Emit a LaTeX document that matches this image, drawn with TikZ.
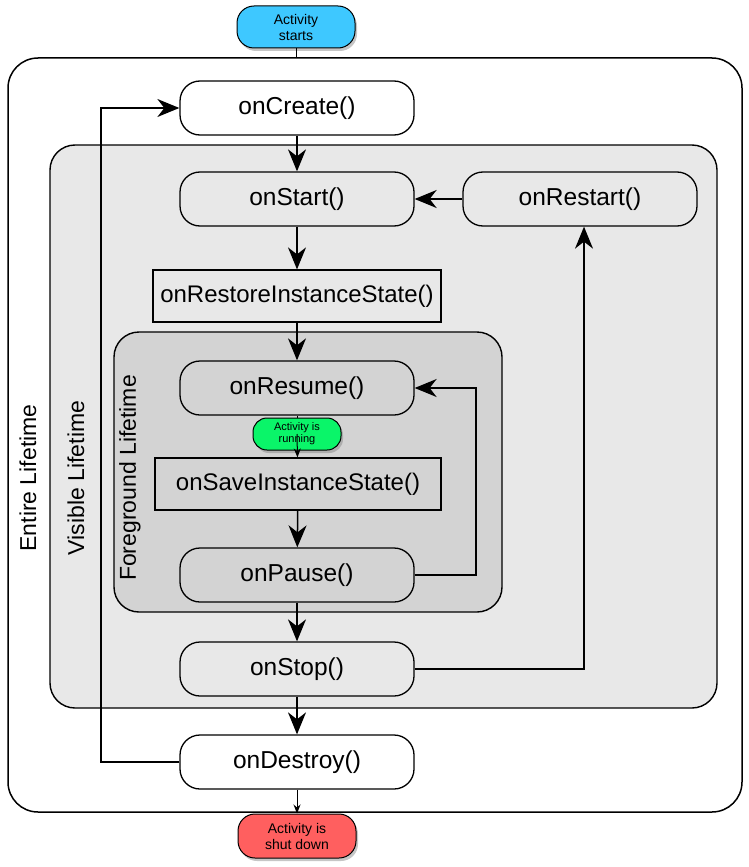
\documentclass[tikz,border=0pt]{standalone}
\usepackage{fontspec}
\setmainfont{Liberation Sans}
\usetikzlibrary{arrows.meta,shadows}

\definecolor{startblue}{RGB}{62,200,255}
\definecolor{rungreen}{RGB}{10,245,105}
\definecolor{downred}{RGB}{255,95,95}
\definecolor{visgray}{RGB}{232,232,232}
\definecolor{fggray}{RGB}{211,211,211}

\tikzset{
  method/.style={draw, line width=1.3pt, rounded corners=20pt, minimum width=234pt,
    minimum height=54pt, font=\fontsize{24.5}{28}\selectfont},
  statebox/.style={draw, line width=1.2pt, minimum width=288pt, minimum height=52pt,
    font=\fontsize{24}{28}\selectfont},
  event/.style={draw, line width=1pt, rounded corners=17pt, align=center,
    drop shadow={opacity=0.45, shadow xshift=2pt, shadow yshift=-3pt}},
  lifelabel/.style={rotate=90, font=\fontsize{23}{27}\selectfont},
  bigarrow/.style={line width=1.5pt, -{Stealth[length=22pt, width=18pt, inset=7pt]}},
  smallarrow/.style={line width=1pt, -{Stealth[length=9pt, width=7pt]}}
}

\begin{document}
\begin{tikzpicture}[x=1pt, y=-1pt]
    \useasboundingbox (0,0) rectangle (748,867);

    % lifetime boxes
    \draw[line width=1.5pt, rounded corners=30pt, fill=white] (8,58) rectangle (742,812);
    \draw[line width=1.4pt, rounded corners=25pt, fill=visgray] (50,145) rectangle (717,708);
    \draw[line width=1.4pt, rounded corners=25pt, fill=fggray] (114,332) rectangle (502,612);

    \node[lifelabel] (entireL) at (28,478) {Entire Lifetime};
    \node[lifelabel] (visibleL) at (76,478) {Visible Lifetime};
    \node[lifelabel] (foregroundL) at (130,478) {Foreground Lifetime};

    % events
    \node[event, fill=startblue, minimum width=118pt, minimum height=42pt,
        font=\fontsize{14}{16}\selectfont] (starts) at (296,27) {Activity\\starts};
    \node[event, fill=rungreen, minimum width=88pt, minimum height=32pt, rounded corners=14pt,
        font=\fontsize{11}{12}\selectfont] (running) at (297,434) {Activity is\\running};
    \node[event, fill=downred, minimum width=118pt, minimum height=44pt,
        font=\fontsize{14}{16}\selectfont] (shutdown) at (297,836) {Activity is\\shut down};

    % callbacks
    \node[method, fill=white] (create) at (297,108) {onCreate()};
    \node[method, fill=visgray] (start) at (297,199) {onStart()};
    \node[method, fill=visgray] (restart) at (580,199) {onRestart()};
    \node[statebox, fill=visgray] (restore) at (297,296) {onRestoreInstanceState()};
    \node[method, fill=fggray] (resume) at (297,388) {onResume()};
    \node[statebox, fill=fggray, minimum width=286pt] (save) at (298,484) {onSaveInstanceState()};
    \node[method, fill=fggray] (pause) at (297,575) {onPause()};
    \node[method, fill=visgray] (stop) at (297,669) {onStop()};
    \node[method, fill=white] (destroy) at (297,762) {onDestroy()};

    \coordinate (entryTop) at (296,58);
    \coordinate (pauseLoop) at (476,575);
    \coordinate (destroyLoop) at (101,762);

    % connectors
    \draw[line width=1pt] (starts) -- (entryTop);
    \draw[bigarrow] (create) -- (start);
    \draw[bigarrow] (restart) -- (start);
    \draw[bigarrow] (start) -- (restore);
    \draw[bigarrow] (restore) -- (resume);
    \draw[line width=1pt] (resume) -- (running);
    \draw[smallarrow] (running.center) -- (save);
    \draw[bigarrow] (save) -- (pause);
    \draw[bigarrow] (pause) -- (pauseLoop) |- (resume);
    \draw[bigarrow] (pause) -- (stop);
    \draw[bigarrow] (stop) -| ([xshift=4pt]restart.south);
    \draw[bigarrow] (stop) -- (destroy);
    \draw[bigarrow] (destroy) -- (destroyLoop) |- (create);
    \draw[smallarrow] (destroy) -- (shutdown);

\end{tikzpicture}
\end{document}
